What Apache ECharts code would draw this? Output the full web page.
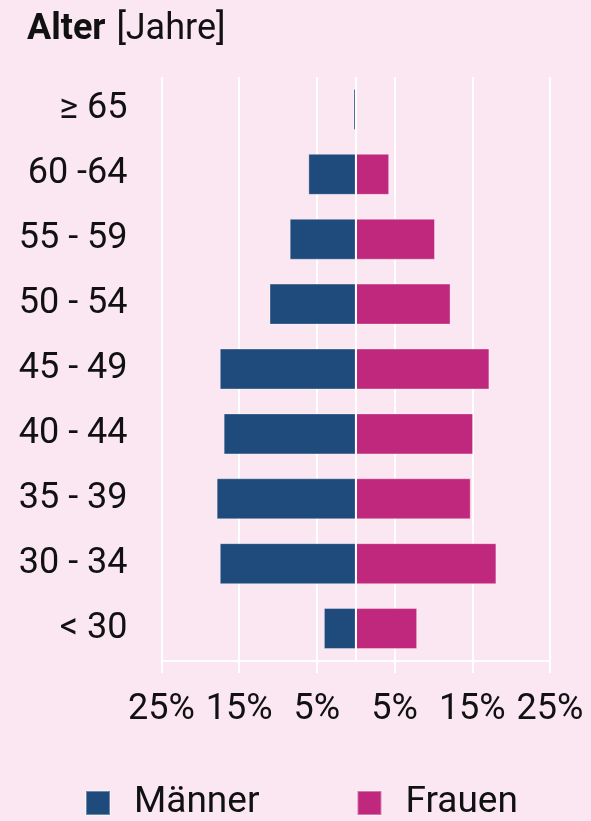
<!DOCTYPE html>
<html>
<head>
<meta charset="utf-8">
<script src="https://cdn.jsdelivr.net/npm/echarts@6/dist/echarts.min.js"></script>
<style>
	html, body { margin: 0; padding: 0; background: #fbe7f1; }
	#chart { width: 591px; height: 821px; }
</style>
</head>
<body>
<div id="chart"></div>
<script>
// Altersgruppen, von oben nach unten
var ageGroups = ["≥ 65", "60 -64", "55 - 59", "50 - 54", "45 - 49", "40 - 44", "35 - 39", "30 - 34", "< 30"];
// Anteile in %
var maenner = [0.3, 6.1, 8.5, 11.1, 17.5, 17.0, 17.9, 17.5, 4.1];
var frauen = [0, 4.3, 10.2, 12.2, 17.2, 15.1, 14.8, 18.1, 7.9];
var tickValues = [-25, -15, -5, 5, 15, 25];

var chart = echarts.init(document.getElementById("chart"));
var option = {
	backgroundColor: "#fbe7f1",
	textStyle: { fontFamily: "Roboto" },
	animation: false,
	title: {
		text: "{b|Alter}{n|[Jahre]}",
		left: 22,
		top: 7,
		textStyle: {
			fontWeight: "normal",
			rich: {
				b: { fontFamily: "Roboto", fontWeight: "bold", fontSize: 36, color: "#111" },
				n: { fontFamily: "Roboto", fontWeight: "normal", fontSize: 36, color: "#111", padding: [0, 0, 0, 11] }
			}
		}
	},
	legend: {
		data: ["Männer", "Frauen"],
		left: 80,
		top: 778,
		icon: "rect",
		itemWidth: 24,
		itemHeight: 24,
		itemGap: 97,
		textStyle: { fontFamily: "Roboto", fontSize: 37, color: "#111", lineHeight: 40, padding: [0, 0, 0, 19] }
	},
	grid: { left: 161.5, right: 41, top: 77, bottom: 160 },
	xAxis: {
		type: "value",
		min: -25,
		max: 25,
		axisLine: { show: true, onZero: false, lineStyle: { color: "#fff", width: 2 } },
		axisTick: { show: true, length: 12, customValues: tickValues, lineStyle: { color: "#fff", width: 2 } },
		splitLine: { show: true, lineStyle: { color: "#fff", width: 2 } },
		axisLabel: {
			customValues: tickValues,
			margin: 31,
			fontSize: 36,
			color: "#111",
			fontFamily: "Roboto",
			formatter: function(v) { return Math.abs(v) + "%"; }
		}
	},
	yAxis: {
		type: "category",
		data: ageGroups,
		inverse: true,
		axisLine: { show: false },
		axisTick: { show: false },
		axisLabel: { fontSize: 36, color: "#111", margin: 34, fontFamily: "Roboto", padding: [6, 0, 0, 0] }
	},
	series: [{
		name: "Männer",
		type: "bar",
		stack: "total",
		barWidth: 41,
		itemStyle: { color: "#1f4a7c", borderColor: "rgba(255,255,255,0.35)", borderWidth: 1 },
		data: maenner.map(function(v) { return -v; })
	}, {
		name: "Frauen",
		type: "bar",
		stack: "total",
		barWidth: 41,
		itemStyle: { color: "#c0287e", borderColor: "rgba(255,255,255,0.35)", borderWidth: 1 },
		data: frauen,
		markLine: {
			silent: true,
			symbol: "none",
			label: { show: false },
			lineStyle: { color: "#fff", width: 2, type: "solid" },
			data: [{ xAxis: 0 }]
		}
	}]
};
chart.setOption(option);
</script>
</body>
</html>
